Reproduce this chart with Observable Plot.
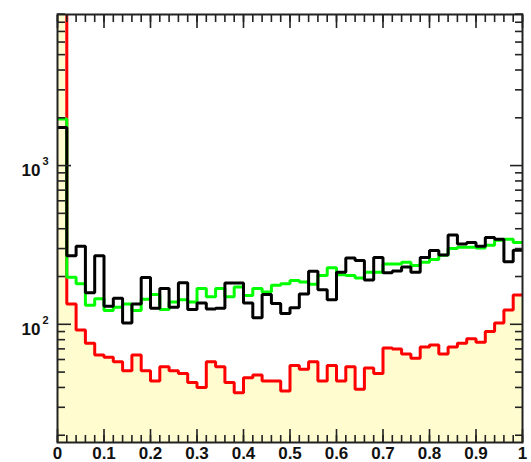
<!DOCTYPE html>
<html><head><meta charset="utf-8">
<script src="https://cdn.jsdelivr.net/npm/d3@7"></script>
<script src="https://cdn.jsdelivr.net/npm/@observablehq/plot@0.6"></script>
<style>html,body{margin:0;padding:0;background:#fff;overflow:hidden}</style>
</head><body><div id="chart"></div>
<script>
// Histogram binning: 50 bins on [0, 1]
const binLow = 0, binHigh = 1, nBins = 50;

// Bin contents
const red = [20000, 134, 92, 76, 64, 62, 58, 51, 64, 51, 44, 54, 51, 49, 43, 40, 58, 54, 43, 37,
             46, 48, 44, 44, 38, 55, 52, 58, 44, 55, 44, 54, 39, 53, 49, 71, 70, 65, 61, 72,
             74, 65, 72, 76, 81, 77, 90, 102, 123, 153];
const green = [1968, 198, 180, 132, 145, 122, 128, 134, 122, 144, 154, 124, 138, 143, 138, 168, 149, 168, 149, 172,
               152, 168, 160, 176, 180, 189, 185, 179, 203, 227, 205, 203, 196, 213, 213, 240, 240, 246, 235, 246,
               256, 272, 300, 306, 306, 303, 315, 338, 343, 328];
const black = [1735, 270, 310, 158, 270, 130, 146, 102, 134, 197, 126, 168, 128, 183, 124, 136, 125, 126, 182, 182,
               136, 110, 154, 135, 117, 127, 155, 216, 165, 143, 213, 262, 252, 190, 264, 211, 217, 230, 213, 264,
               292, 273, 365, 320, 328, 310, 352, 343, 248, 293];

// Axis ticks and labels
const xMajor = [0, 0.1, 0.2, 0.3, 0.4, 0.5, 0.6, 0.7, 0.8, 0.9, 1];
const xLabels = ["0", "0.1", "0.2", "0.3", "0.4", "0.5", "0.6", "0.7", "0.8", "0.9", "1"];
const xMinor = d3.range(0, 51).map(i => i / 50);
const yMajor = [100, 1000];
const yExponents = ["2", "3"];
const yMinor = [20, 30, 40, 50, 60, 70, 80, 90, 200, 300, 400, 500, 600, 700, 800, 900,
                2000, 3000, 4000, 5000, 6000, 7000, 8000, 9000];
const yMin = 18, yMax = 8950;

function rows(vals) {
  const w = (binHigh - binLow) / nBins;
  const r = vals.map((v, i) => ({x: binLow + i * w, v}));
  r.push({x: binHigh, v: vals[vals.length - 1]});
  return r;
}
const redRows = rows(red), greenRows = rows(green), blackRows = rows(black);

const tickColor = "#222";
const lineOpts = {x: "x", y: "v", curve: "step-after", strokeWidth: 3, strokeLinejoin: "miter", clip: true};

const chart = Plot.plot({
  width: 531, height: 462,
  marginLeft: 57, marginRight: 9, marginTop: 14, marginBottom: 20,
  x: {domain: [binLow, binHigh]},
  y: {type: "log", domain: [yMin, yMax]},
  style: {fontFamily: "'Liberation Sans', Arial, sans-serif", fontSize: "17px", fontWeight: "bold", background: "white", color: "#111"},
  marks: [
    Plot.areaY(redRows, {x: "x", y1: yMin, y2: "v", curve: "step-after", fill: "#fffccf", clip: true}),
    Plot.line(redRows, {...lineOpts, stroke: "#ff0000"}),
    Plot.line(greenRows, {...lineOpts, stroke: "#00ff00"}),
    Plot.line(blackRows, {...lineOpts, stroke: "#000000"}),
    // inward ticks (ROOT style)
    Plot.axisX(xMajor, {anchor: "bottom", tickSize: 13, dy: -13, fill: "none", stroke: tickColor, strokeWidth: 1.6, label: null}),
    Plot.axisX(xMinor, {anchor: "bottom", tickSize: 7, dy: -7, fill: "none", stroke: tickColor, strokeWidth: 1.6, label: null}),
    Plot.axisX(xMajor, {anchor: "top", tickSize: 13, dy: 13, fill: "none", stroke: tickColor, strokeWidth: 1.6, label: null}),
    Plot.axisX(xMinor, {anchor: "top", tickSize: 7, dy: 7, fill: "none", stroke: tickColor, strokeWidth: 1.6, label: null}),
    Plot.axisY(yMajor, {anchor: "left", tickSize: 14, dx: 14, fill: "none", stroke: tickColor, strokeWidth: 1.6, label: null}),
    Plot.axisY(yMinor, {anchor: "left", tickSize: 8, dx: 8, fill: "none", stroke: tickColor, strokeWidth: 1.6, label: null}),
    Plot.axisY(yMajor, {anchor: "right", tickSize: 13, dx: -13, fill: "none", stroke: tickColor, strokeWidth: 1.6, label: null}),
    Plot.axisY(yMinor, {anchor: "right", tickSize: 8, dx: -8, fill: "none", stroke: tickColor, strokeWidth: 1.6, label: null}),
    // x tick labels
    Plot.axisX(xMajor, {anchor: "bottom", tickSize: 0, tickPadding: 4, tickFormat: d => xLabels[Math.round(d * 10)], label: null, fill: "#111"}),
    // y tick labels 10^n
    Plot.text(yMajor, {x: binLow, y: d => d, text: () => "10", textAnchor: "end", dx: -17, dy: 5, fontSize: 17, fill: "#111"}),
    Plot.text(yMajor, {x: binLow, y: d => d, text: (d, i) => yExponents[i], textAnchor: "start", dx: -15, dy: -4, fontSize: 11, fill: "#111"}),
    Plot.frame({stroke: "#222", strokeWidth: 2})
  ]
});
document.getElementById("chart").appendChild(chart);
</script>
</body></html>
